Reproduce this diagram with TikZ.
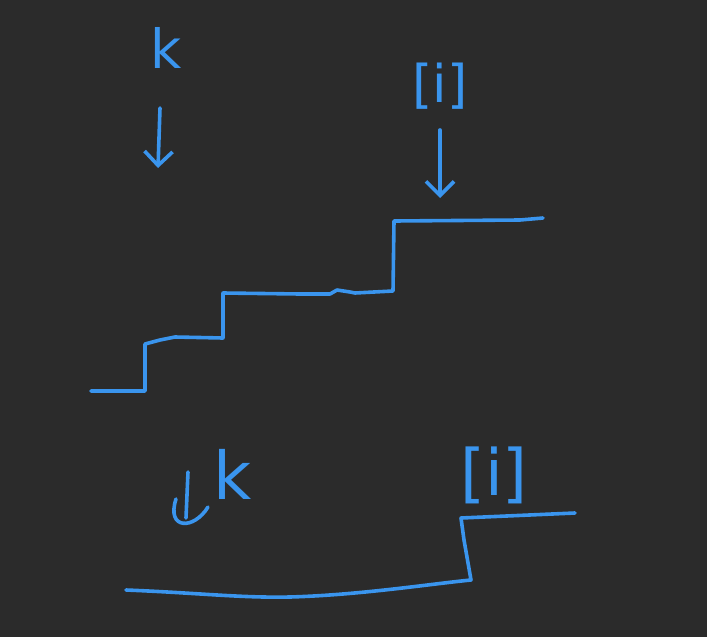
\documentclass[tikz,border=0pt]{standalone}
\usepackage{fontspec}
\setmainfont{DejaVu Sans}
\usetikzlibrary{arrows.meta}
\definecolor{bgc}{HTML}{2B2B2B}
\definecolor{ink}{HTML}{3A95EE}
\tikzset{
  pen/.style={draw=ink, line width=3.6pt, line cap=round, line join=round},
  penarrow/.style={pen, -{Straight Barb[length=14pt,width=28pt,line width=3.6pt]}},
  hand/.style={text=ink, inner sep=0pt},
}
\newfontfamily\handfont{DejaVu Sans}
\begin{document}
\begin{tikzpicture}[x=1pt,y=-1pt]
\fill[bgc] (0,0) rectangle (707,637);
\useasboundingbox (0,0) rectangle (707,637);
% top labels
\node[hand, font=\handfont\fontsize{54}{54}\selectfont] (k1) at (166,48) {k};
\node[hand, font=\handfont\fontsize{52}{52}\selectfont] (i1) at (440,86) {[i]};
\coordinate (k1a) at (160,108);
\coordinate (k1b) at (158,168);
\coordinate (i1a) at (440,130);
\coordinate (i1b) at (440,198);
\draw[penarrow] (k1a) -- (k1b);
\draw[penarrow] (i1a) -- (i1b);
% top staircase
\coordinate (s0) at (91,391);
\coordinate (s1) at (145,391);
\coordinate (s2) at (145,344);
\coordinate (s3) at (223,338);
\coordinate (s4) at (223,293);
\coordinate (s5) at (393,291);
\coordinate (s6) at (394,221);
\coordinate (s7) at (543,218);
\draw[pen] (s0) -- (s1) -- (s2) -- (160,340) -- (175,337) -- (s3) -- (s4)
  -- (300,294) -- (330,294) -- (337,290) -- (350,292) -- (355,293) -- (s5) -- (s6)
  -- (520,220) -- (s7);
% bottom labels
\node[hand, font=\handfont\fontsize{66}{66}\selectfont] (k2) at (233,474) {k};
\node[hand, font=\handfont\fontsize{64}{64}\selectfont] (i2) at (494,475) {[i]};
\coordinate (k2a) at (188,472);
\coordinate (k2b) at (186,518);
\draw[pen] (k2a) -- (k2b);
\draw[pen] (176,499) .. controls (166,530) and (194,530) .. (208,507);
% bottom staircase
\coordinate (b0) at (126,590);
\coordinate (b1) at (290,597);
\coordinate (b2) at (471,580);
\coordinate (b3) at (461,518);
\coordinate (b4) at (575,513);
\draw[pen] (b0) .. controls (200,593) and (240,598) .. (b1)
  .. controls (360,595) and (430,584) .. (b2)
  -- (464,540) -- (b3) -- (b4);
\end{tikzpicture}
\end{document}
